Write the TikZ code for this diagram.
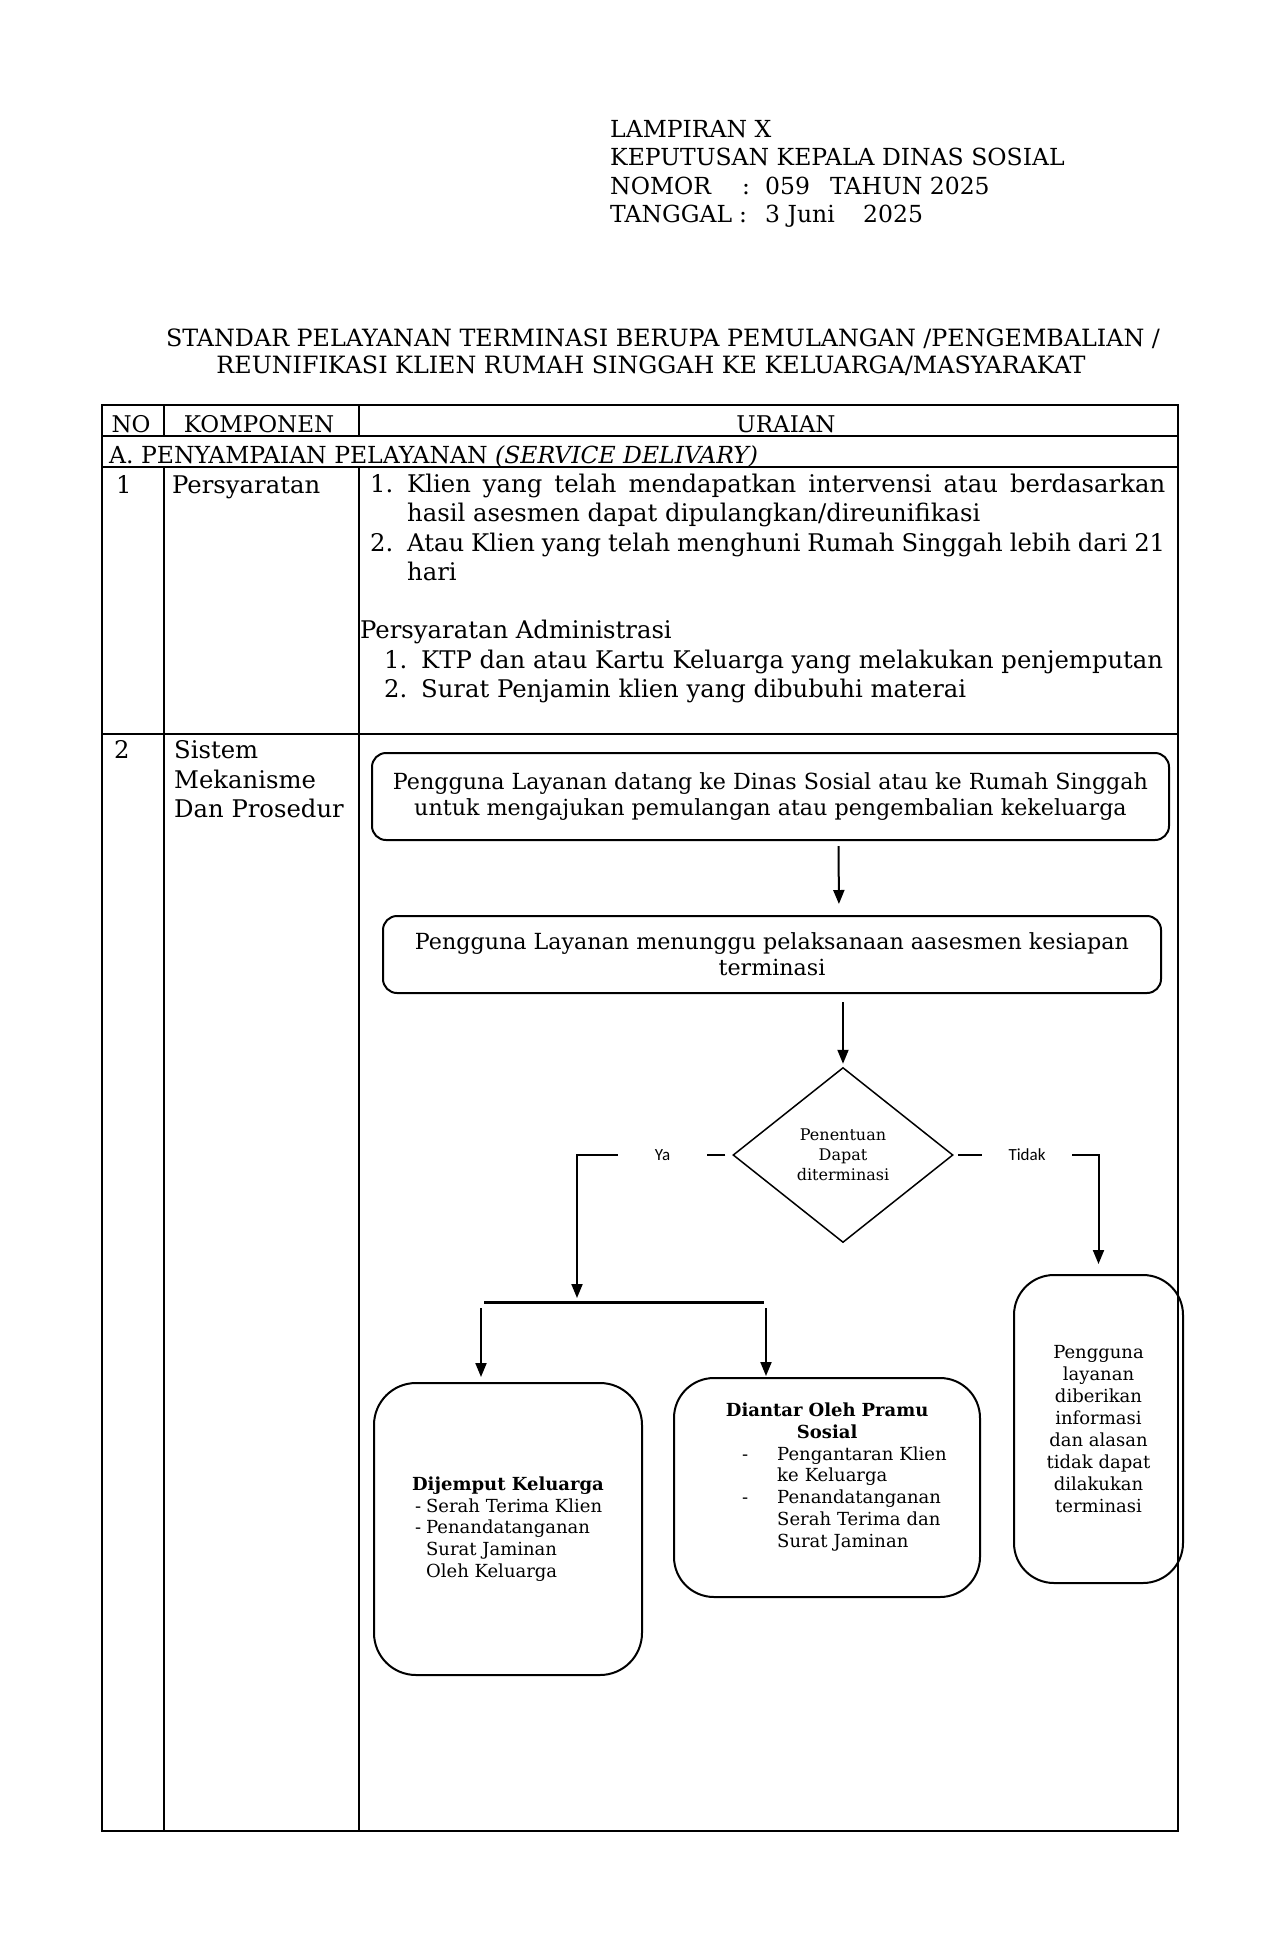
\documentclass[tikz,border=0pt]{standalone}
\usepackage{fontspec}
\setmainfont{DejaVu Serif}
\newfontfamily\lblfont{Carlito}
\usetikzlibrary{arrows.meta,shapes.geometric}
\newcommand\szHead{\fontsize{23.5}{28.4}\selectfont}
\newcommand\szTitle{\fontsize{23.8}{27}\selectfont}
\newcommand\szTab{\fontsize{24.3}{29}\selectfont}
\newcommand\szCaps{\fontsize{23.5}{29}\selectfont}
\newcommand\szHrow{\fontsize{23}{29}\selectfont}
\newcommand\szBox{\fontsize{22.2}{26}\selectfont}
\newcommand\szSmall{\fontsize{18}{21.7}\selectfont}
\newcommand\szTidak{\fontsize{18}{22.1}\selectfont}
\newcommand\szDia{\fontsize{16}{20}\selectfont}
\newcommand\szLbl{\fontsize{17}{20}\selectfont}
\begin{document}
\begin{tikzpicture}[x=1pt,y=-1pt,
  txt/.style={inner sep=0pt, anchor=base west},
  ctxt/.style={inner sep=0pt, anchor=base},
  tline/.style={line width=1.4pt},
  flow/.style={draw, line width=2pt, rounded corners=14pt, align=center, inner sep=0pt},
  bigbox/.style={draw, line width=2pt, rounded corners=40pt, inner sep=0pt},
  conn/.style={line width=2pt},
  arr/.style={line width=2pt, -{Triangle[length=14pt,width=11pt]}},
  lbl/.style={inner sep=0pt, font=\lblfont\szLbl},
]
\useasboundingbox[fill=white] (0,0) rectangle (1273,1955);

% ---------- header ----------
\node[txt, font=\szHead] (h1) at (610,137) {LAMPIRAN X};
\node[txt, font=\szHead] (h2) at (610,165) {KEPUTUSAN KEPALA DINAS SOSIAL};
\node[txt, font=\szHead] (h3a) at (610,194) {NOMOR};
\node[txt, font=\szHead] (h3b) at (742,194) {:};
\node[txt, font=\szHead] (h3c) at (765,194) {059};
\node[txt, font=\szHead] (h3d) at (830,194) {TAHUN 2025};
\node[txt, font=\szHead] (h4a) at (610,222) {TANGGAL};
\node[txt, font=\szHead] (h4b) at (739,222) {:};
\node[txt, font=\szHead] (h4c) at (765,222) {3 Juni};
\node[txt, font=\szHead] (h4d) at (863,222) {2025};

% ---------- title ----------
\node[ctxt, font=\szTitle] (t1) at (663,346) {STANDAR PELAYANAN TERMINASI BERUPA PEMULANGAN /PENGEMBALIAN /};
\node[ctxt, font=\szTitle] (t2) at (651,373) {REUNIFIKASI KLIEN RUMAH SINGGAH KE KELUARGA/MASYARAKAT};

% ---------- table ----------
\draw[tline] (102,405) rectangle (1178,1831);
\draw[tline] (102,436) -- (1178,436);
\draw[tline] (102,467) -- (1178,467);
\draw[tline] (102,734) -- (1178,734);
\draw[tline] (164,405) -- (164,436);
\draw[tline] (359,405) -- (359,436);
\draw[tline] (164,467) -- (164,1831);
\draw[tline] (359,467) -- (359,1831);

\node[ctxt, font=\szHrow] (hno) at (131,432) {NO};
\node[ctxt, font=\szHrow] (hkomp) at (259,432) {KOMPONEN};
\node[ctxt, font=\szHrow] (hur) at (786,432) {URAIAN};
\node[txt, font=\szCaps] (sec) at (109,463) {A. PENYAMPAIAN PELAYANAN \textit{(SERVICE DELIVARY)}};

\node[txt, font=\szTab] (n1) at (116,493) {1};
\node[txt, font=\szTab] (k1) at (172,493) {Persyaratan};
\node[txt, font=\szTab] (u1n) at (370,492) {1.};
\node[txt, font=\szTab] (u1a) at (407,492) {\makebox[758pt][s]{Klien yang telah mendapatkan intervensi atau berdasarkan}};
\node[txt, font=\szTab] (u1b) at (407,521) {hasil asesmen dapat dipulangkan/direunifikasi};
\node[txt, font=\szTab] (u2n) at (370,551) {2.};
\node[txt, font=\szTab] (u2a) at (407,551) {\makebox[758pt][s]{Atau Klien yang telah menghuni Rumah Singgah lebih dari 21}};
\node[txt, font=\szTab] (u2b) at (407,580) {hari};
\node[txt, font=\szTab] (adm) at (360,638) {Persyaratan Administrasi};
\node[txt, font=\szTab] (a1n) at (384,668) {1.};
\node[txt, font=\szTab] (a1) at (421,668) {KTP dan atau Kartu Keluarga yang melakukan penjemputan};
\node[txt, font=\szTab] (a2n) at (384,697) {2.};
\node[txt, font=\szTab] (a2) at (421,697) {Surat Penjamin klien yang dibubuhi materai};

\node[txt, font=\szTab] (n2) at (114,758) {2};
\node[txt, font=\szTab] (k2a) at (174,758) {Sistem};
\node[txt, font=\szTab] (k2b) at (174,788) {Mekanisme};
\node[txt, font=\szTab] (k2c) at (174,817) {Dan Prosedur};

% ---------- flowchart ----------
\node[flow, minimum width=797pt, minimum height=87pt, font=\szBox] (b1) at (770.5,796.5)
  {Pengguna Layanan datang ke Dinas Sosial atau ke Rumah Singgah\\untuk mengajukan pemulangan atau pengembalian kekeluarga};
\node[flow, minimum width=778pt, minimum height=77pt, font=\szBox] (b2) at (772,954.5)
  {Pengguna Layanan menunggu pelaksanaan aasesmen kesiapan\\terminasi};
\node[diamond, draw, line width=1.5pt, minimum width=220pt, minimum height=175pt, inner sep=0pt,
  align=center, font=\szDia] (d) at (843,1155) {Penentuan\\Dapat\\diterminasi};

\node[lbl, minimum width=89pt] (ya) at (662.5,1155) {Ya};
\node[lbl, minimum width=90pt] (td) at (1027,1155) {Tidak};

\node[bigbox, minimum width=268pt, minimum height=292pt, rounded corners=42pt, align=left, font=\szSmall]
  (lb) at (508,1529)
  {\textbf{Dijemput Keluarga}\\
   \makebox[14pt][l]{\hspace*{3pt}-}Serah Terima Klien\\
   \makebox[14pt][l]{\hspace*{3pt}-}Penandatanganan\\
   \hspace*{14pt}Surat Jaminan\\
   \hspace*{14pt}Oleh Keluarga};
\node[bigbox, minimum width=306pt, minimum height=219pt] (rb) at (827,1487.5) {};
\node[inner sep=0pt, text width=240pt, align=left, font=\szSmall, anchor=west] (rbt) at (742,1477)
  {\makebox[170pt]{\textbf{Diantar Oleh Pramu}}\\
   \makebox[170pt]{\textbf{Sosial}}\\
   \makebox[35pt][l]{-}Pengantaran Klien\\
   \hspace*{35pt}ke Keluarga\\
   \makebox[35pt][l]{-}Penandatanganan\\
   \hspace*{35pt}Serah Terima dan\\
   \hspace*{35pt}Surat Jaminan};
\node[bigbox, minimum width=169pt, minimum height=308pt, align=center, font=\szTidak] (tb) at (1098.5,1429)
  {Pengguna\\layanan\\diberikan\\informasi\\dan alasan\\tidak dapat\\dilakukan\\terminasi};

% connectors
\draw[arr, shorten <=5pt, shorten >=11pt] ([xshift=68pt]b1.south) -- ([xshift=67pt]b2.north);
\draw[arr, shorten <=8pt, shorten >=3pt] (d.north |- b2.south) -- (d.north);

\coordinate (yaEnd) at (577,1298);
\draw[conn, shorten <=7pt] (d.west) -- (ya.east);
\draw[arr] (ya.west) -| (yaEnd);

\draw[conn, shorten <=4pt] (d.east) -- (td.west);
\draw[arr, shorten >=10pt] (td.east) -| (tb.north);

\coordinate (barL) at (484,1302);
\coordinate (barR) at (764,1302);
\draw[line width=3pt] (barL) -- (barR);
\coordinate (la) at (481,1308);
\coordinate (ra) at (766,1308);
\draw[arr, shorten >=5pt] (la) -- (la |- lb.north);
\draw[arr, shorten >=1pt] (ra) -- (ra |- rb.north);
\end{tikzpicture}
\end{document}
